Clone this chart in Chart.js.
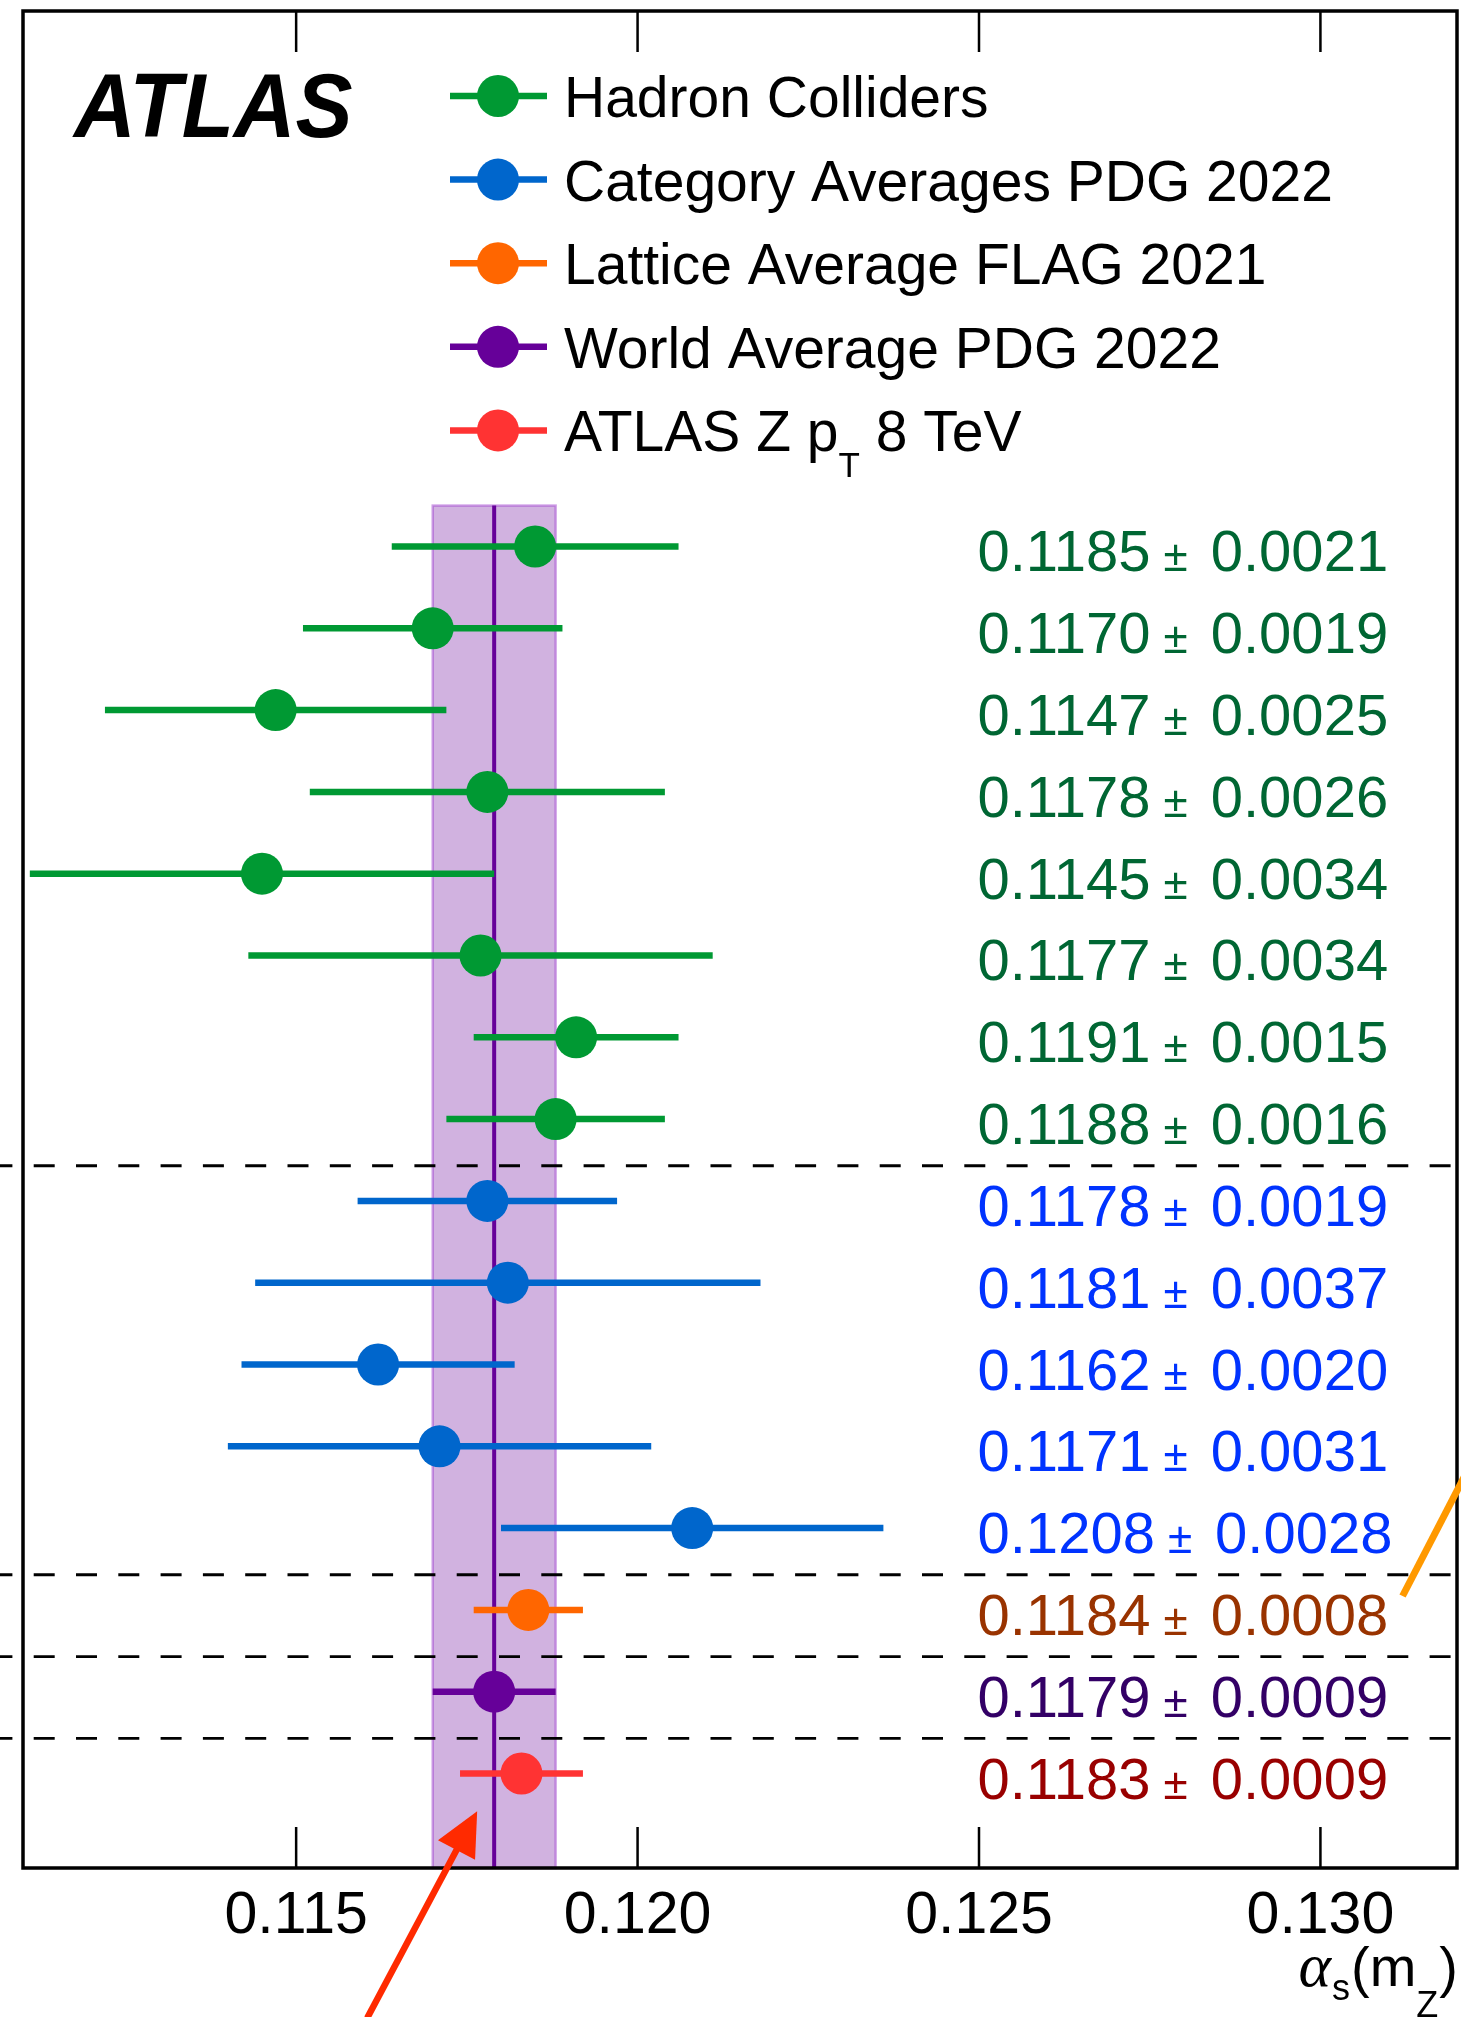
<!DOCTYPE html>
<html>
<head>
<meta charset="utf-8">
<title>alpha_s(mZ) comparison</title>
<script src="https://cdn.jsdelivr.net/npm/chart.js@4.4.1/dist/chart.umd.min.js"></script>
<style>
  html, body { margin: 0; padding: 0; background: #fff; overflow: hidden; }
  #wrap { width: 1461px; height: 2017px; }
</style>
</head>
<body>
<div id="wrap"><canvas id="alphaChart" width="1461" height="2017"></canvas></div>
<script>
// measurements, top to bottom inside each group
const hadronValues = [0.1185, 0.1170, 0.1147, 0.1178, 0.1145, 0.1177, 0.1191, 0.1188];
const hadronErrors = [0.0021, 0.0019, 0.0025, 0.0026, 0.0034, 0.0034, 0.0015, 0.0016];
const pdgCategoryValues = [0.1178, 0.1181, 0.1162, 0.1171, 0.1208];
const pdgCategoryErrors = [0.0019, 0.0037, 0.0020, 0.0031, 0.0028];
const flagValues = [0.1184];
const flagErrors = [0.0008];
const worldValues = [0.1179];
const worldErrors = [0.0009];
const atlasValues = [0.1183];
const atlasErrors = [0.0009];

const seriesNames = ['Hadron Colliders', 'Category Averages PDG 2022', 'Lattice Average FLAG 2021', 'World Average PDG 2022', 'ATLAS Z p_T 8 TeV'];
const tickValues = [0.115, 0.120, 0.125, 0.130];
const tickLabels = ['0.115', '0.120', '0.125', '0.130'];

// styles
const FONT = "'Liberation Sans', Arial, Helvetica, sans-serif";
const MARKER_COLORS = ['#009933', '#0066cc', '#ff6600', '#660099', '#ff3333'];
const TEXT_COLORS = ['#006633', '#0033ff', '#993300', '#330066', '#990000'];
const X_MIN = 0.111;
const X_MAX = 0.132;
const Y_MIN = -6.546;
const Y_MAX = 16.155;

const groups = [
  { values: hadronValues, errors: hadronErrors },
  { values: pdgCategoryValues, errors: pdgCategoryErrors },
  { values: flagValues, errors: flagErrors },
  { values: worldValues, errors: worldErrors },
  { values: atlasValues, errors: atlasErrors },
];

// one row per measurement, separators between groups
const rows = [];
const separators = [];
groups.forEach((g, gi) => {
  g.values.forEach((v, k) => rows.push({ gi, v, e: g.errors[k], y: rows.length }));
  if (gi < groups.length - 1) separators.push(rows.length - 1 + 0.57);
});

const datasets = [];
groups.forEach((g, gi) => {
  datasets.push({
    label: seriesNames[gi],
    data: rows.filter((r) => r.gi === gi).map((r) => ({ x: r.v, y: r.y })),
    backgroundColor: MARKER_COLORS[gi],
    borderWidth: 0,
    pointRadius: 21,
    order: 0,
  });
});
rows.forEach((r) => {
  datasets.push({
    data: [{ x: r.v - r.e, y: r.y }, { x: r.v + r.e, y: r.y }],
    showLine: true,
    borderColor: MARKER_COLORS[r.gi],
    borderWidth: 6.5,
    borderCapStyle: 'butt',
    pointRadius: 0,
    order: 1,
  });
});
datasets.push({
  data: [{ x: worldValues[0], y: -0.5 }, { x: worldValues[0], y: Y_MAX }],
  showLine: true,
  borderColor: '#660099',
  borderWidth: 4,
  pointRadius: 0,
  order: 2,
});

function drawFrameAndBand(chart) {
  const { ctx, chartArea: a, scales: { x, y } } = chart;
  ctx.save();
  const bx0 = x.getPixelForValue(worldValues[0] - worldErrors[0]);
  const bx1 = x.getPixelForValue(worldValues[0] + worldErrors[0]);
  const by0 = y.getPixelForValue(-0.5);
  ctx.fillStyle = 'rgba(102, 0, 153, 0.3)';
  ctx.fillRect(bx0, by0, bx1 - bx0, a.bottom - by0);
  ctx.strokeStyle = 'rgba(153, 51, 204, 0.45)';
  ctx.lineWidth = 2.5;
  ctx.strokeRect(bx0, by0, bx1 - bx0, a.bottom - by0);

  ctx.strokeStyle = '#000';
  ctx.lineWidth = 2.8;
  ctx.setLineDash([21, 21.3]);
  ctx.lineDashOffset = 8.6;
  separators.forEach((s) => {
    const py = y.getPixelForValue(s);
    ctx.beginPath();
    ctx.moveTo(0, py);
    ctx.lineTo(a.right, py);
    ctx.stroke();
  });
  ctx.restore();
}

function drawLabelText(ctx, x0, baseline, parts) {
  // parts: [text, font, dy, gapAfter]
  let x = x0;
  parts.forEach(([t, font, dy, gap]) => {
    ctx.font = font;
    ctx.fillText(t, x, baseline + dy);
    x += ctx.measureText(t).width + (gap || 0);
  });
  return x;
}

function drawOverlay(chart) {
  const { ctx, chartArea: a, scales: { x, y } } = chart;
  ctx.save();

  // frame and inward ticks
  ctx.strokeStyle = '#000';
  ctx.lineWidth = 3.5;
  ctx.strokeRect(a.left, a.top, a.right - a.left, a.bottom - a.top);
  ctx.lineWidth = 2.5;
  tickValues.forEach((v) => {
    const px = x.getPixelForValue(v);
    ctx.beginPath();
    ctx.moveTo(px, a.bottom);
    ctx.lineTo(px, a.bottom - 41);
    ctx.moveTo(px, a.top);
    ctx.lineTo(px, a.top + 41);
    ctx.stroke();
  });

  // ATLAS label
  ctx.save();
  ctx.fillStyle = '#000';
  ctx.font = `italic bold 90px ${FONT}`;
  ctx.translate(74, 137);
  ctx.scale(0.95, 1);
  ctx.fillText('ATLAS', 0, 0);
  ctx.restore();

  // legend
  ctx.textBaseline = 'alphabetic';
  const big = `57px ${FONT}`;
  seriesNames.forEach((name, i) => {
    const cy = 96 + i * 83.6;
    ctx.strokeStyle = MARKER_COLORS[i];
    ctx.lineWidth = 6.5;
    ctx.beginPath();
    ctx.moveTo(450, cy);
    ctx.lineTo(547, cy);
    ctx.stroke();
    ctx.fillStyle = MARKER_COLORS[i];
    ctx.beginPath();
    ctx.arc(498, cy, 21, 0, Math.PI * 2);
    ctx.fill();
    ctx.fillStyle = '#000';
    if (name.includes('p_T')) {
      const [pre, post] = name.split('_T');
      drawLabelText(ctx, 564, cy + 21, [[pre, big, 0, 0], ['T', `35px ${FONT}`, 26, 0], [post, big, 0, 0]]);
    } else {
      drawLabelText(ctx, 564, cy + 21, [[name, big, 0, 0]]);
    }
  });

  // value labels
  const lx = x.getPixelForValue(0.125) - 1.5;
  const num = `58px ${FONT}`;
  const pm = `44px ${FONT}`;
  rows.forEach((r) => {
    ctx.fillStyle = TEXT_COLORS[r.gi];
    const py = y.getPixelForValue(r.y) + 25;
    drawLabelText(ctx, lx, py, [
      [r.v.toFixed(4), num, 0, 13],
      ['\u00b1', pm, 0, 23],
      [r.e.toFixed(4), num, 0, 0],
    ]);
  });

  // axis title, right aligned
  ctx.fillStyle = '#000';
  const titleParts = [
    ['\u03b1', `italic 62px 'Liberation Serif', 'DejaVu Serif', serif`, 0, 1],
    ['s', `36px ${FONT}`, 14, 1],
    ['(m', `56px ${FONT}`, 0, 0],
    ['Z', `36px ${FONT}`, 31, 1],
    [')', `56px ${FONT}`, 0, 0],
  ];
  let tw = 0;
  titleParts.forEach(([t, f, , g]) => { ctx.font = f; tw += ctx.measureText(t).width + g; });
  drawLabelText(ctx, 1458 - tw, 1986, titleParts);

  // red arrow pointing at the band
  const tip = { x: x.getPixelForValue(0.117651), y: y.getPixelForValue(15.46) };
  const tail = { x: x.getPixelForValue(0.116040), y: y.getPixelForValue(17.99) };
  const len = Math.hypot(tip.x - tail.x, tip.y - tail.y);
  const ux = (tip.x - tail.x) / len;
  const uy = (tip.y - tail.y) / len;
  const bx = tip.x - ux * 44;
  const by = tip.y - uy * 44;
  ctx.strokeStyle = '#ff2a00';
  ctx.fillStyle = '#ff2a00';
  ctx.lineWidth = 6.5;
  ctx.beginPath();
  ctx.moveTo(tail.x, tail.y);
  ctx.lineTo(bx + ux * 4, by + uy * 4);
  ctx.stroke();
  ctx.beginPath();
  ctx.moveTo(tip.x, tip.y);
  ctx.lineTo(bx - uy * 21, by + ux * 21);
  ctx.lineTo(bx + uy * 21, by - ux * 21);
  ctx.closePath();
  ctx.fill();

  // orange pointer on the right edge
  const o1 = { x: x.getPixelForValue(0.131203), y: y.getPixelForValue(12.83) };
  const o2 = { x: x.getPixelForValue(0.132052), y: y.getPixelForValue(11.46) };
  ctx.strokeStyle = '#ff9900';
  ctx.lineWidth = 7;
  ctx.lineCap = 'butt';
  ctx.beginPath();
  ctx.moveTo(o1.x, o1.y);
  ctx.lineTo(o1.x + (o2.x - o1.x) * 3, o1.y + (o2.y - o1.y) * 3);
  ctx.stroke();

  ctx.restore();
}

const atlasDecor = {
  id: 'atlasDecor',
  beforeDatasetsDraw: drawFrameAndBand,
  afterDraw: drawOverlay,
};

Chart.defaults.font.family = FONT;

new Chart(document.getElementById('alphaChart'), {
  type: 'scatter',
  data: { datasets },
  options: {
    responsive: false,
    animation: false,
    events: [],
    layout: { autoPadding: false, padding: { left: 23, right: 4, top: 11, bottom: 0 } },
    plugins: {
      legend: { display: false },
      tooltip: { enabled: false },
    },
    scales: {
      x: {
        type: 'linear',
        min: X_MIN,
        max: X_MAX,
        afterBuildTicks: (scale) => { scale.ticks = tickValues.map((v) => ({ value: v })); },
        afterFit: (scale) => { scale.height = 149; },
        ticks: {
          callback: (v, i) => tickLabels[i],
          color: '#000',
          font: { size: 59 },
          padding: 5,
          maxRotation: 0,
          autoSkip: false,
        },
        grid: { display: false },
        border: { display: false },
      },
      y: {
        type: 'linear',
        min: Y_MIN,
        max: Y_MAX,
        reverse: true,
        display: false,
      },
    },
  },
  plugins: [atlasDecor],
});
</script>
</body>
</html>
